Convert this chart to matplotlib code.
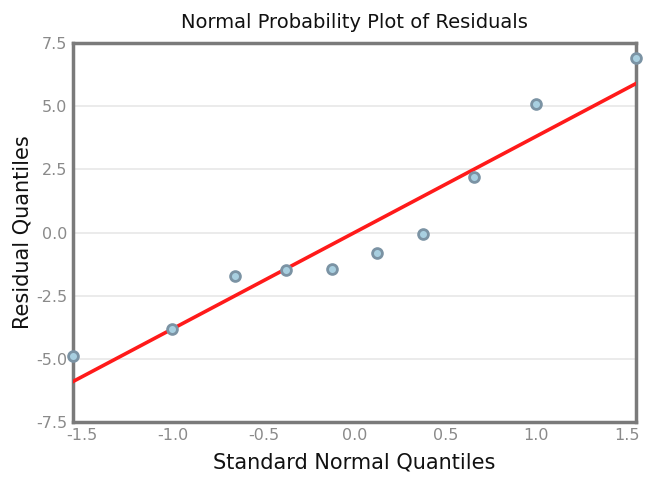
import matplotlib
matplotlib.use('Agg')
import matplotlib.pyplot as plt
import numpy as np

# normal quantiles (Blom) and residual quantiles
theoretical = [-1.547, -1.0, -0.655, -0.375, -0.123, 0.123, 0.375, 0.655, 1.0, 1.547]
residuals = [-4.9, -3.8, -1.7, -1.5, -1.45, -0.8, -0.05, 2.2, 5.1, 6.9]
x_ticks = [-1.5, -1.0, -0.5, 0.0, 0.5, 1.0, 1.5]
y_ticks = [-7.5, -5.0, -2.5, 0.0, 2.5, 5.0, 7.5]

plt.rcParams['font.family'] = ['DejaVu Sans']

fig = plt.figure(figsize=(6.45, 4.84), dpi=100)
ax = fig.add_axes([0.113, 0.128, 0.873, 0.783])

# least squares reference line
slope, icpt = np.polyfit(theoretical, residuals, 1)
xl = np.array([-1.547, 1.547])
ax.plot(xl, icpt + slope * xl, color='#ff1a1a', lw=2.6, zorder=3)

ax.scatter(theoretical, residuals, s=50, facecolor='#a8cfe0', edgecolor='#7b93a4',
           linewidth=2, zorder=4, clip_on=False)

ax.set_xlim(-1.547, 1.547)
ax.set_ylim(-7.5, 7.5)
ax.set_xticks(x_ticks)
ax.set_yticks(y_ticks)
ax.set_xticklabels([f'{v:.1f}' for v in x_ticks])
ax.set_yticklabels([f'{v:.1f}' for v in y_ticks])
ax.tick_params(length=0, labelsize=11.5, labelcolor='#8a8a8a', pad=4)
ax.grid(axis='y', color='#e8e8e8', lw=1.2)
ax.set_axisbelow(True)
for s in ax.spines.values():
    s.set_color('#7a7a7a')
    s.set_linewidth(2.5)

ax.set_title('Normal Probability Plot of Residuals', fontsize=14, color='#111111', pad=11)
ax.set_xlabel('Standard Normal Quantiles', fontsize=15, color='#111111', labelpad=7)
ax.set_ylabel('Residual Quantiles', fontsize=15, color='#111111', labelpad=3)

fig.savefig('out.png', dpi=100)
